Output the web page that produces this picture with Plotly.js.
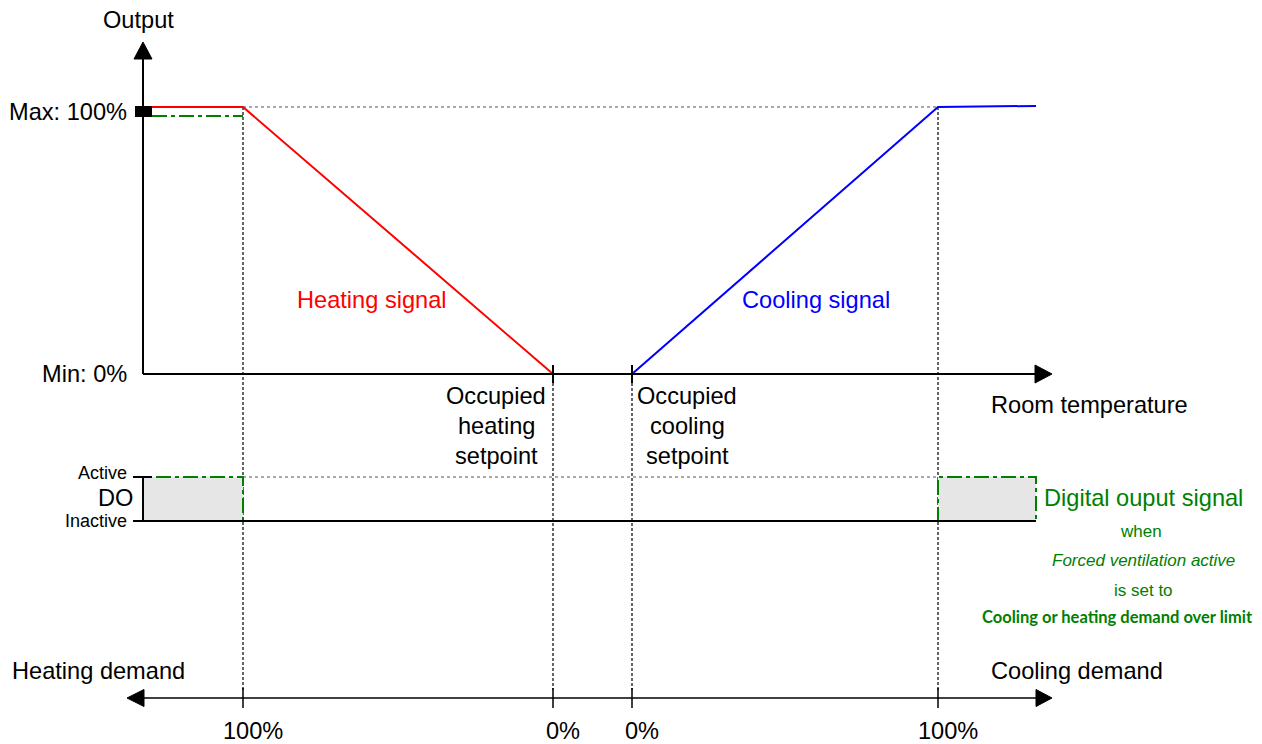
<!DOCTYPE html>
<html><head><meta charset="utf-8">
<script src="https://cdn.plot.ly/plotly-3.0.1.min.js"></script>
<style>html,body{margin:0;padding:0;background:#fff}#chart{width:1262px;height:744px}</style>
</head><body><div id="chart"></div>
<script>
// ---------- data ----------
const heatingX = [0, 1.00, 4.10];
const heatingY = [100, 100, 0];
const coolingX = [4.89, 7.95, 8.93];
const coolingY = [0, 100, 100.4];
const forcedVentX = [0.09, 1.00];
const forcedVentY = [96.6, 96.6];
const doHeatX = [0, 1.00];
const doCoolX = [7.95, 8.93];
const doActive = 1, doInactive = 0;
const outputTickVals = [100, 0];
const outputTickText = ['Max: 100%', 'Min: 0%'];
const setpointX = [4.10, 4.89];
const setpointLabels = [['Occupied', 'heating', 'setpoint'], ['Occupied', 'cooling', 'setpoint']];
const demandTickX = [1.00, 4.10, 4.89, 7.95];
const demandTickText = ['100%', '0%', '0%', '100%'];

// ---------- layout helpers ----------
const W = 1262, H = 744;
const FONT = 'Liberation Sans, Arial, sans-serif';
const BIG = 23.6, MID = 17, SMALL = 18;
const GREEN = '#008000';
const px = v => v / W;
const py = v => 1 - v / H;
const shapes = [];
const ann = [];
function pline(x0, y0, x1, y1, color, width, dash, layer) {
  shapes.push({type: 'line', xref: 'paper', yref: 'paper', x0: px(x0), x1: px(x1), y0: py(y0), y1: py(y1),
    line: {color: color, width: width, dash: dash || 'solid'}, layer: layer || 'above'});
}
function tri(pts) {
  shapes.push({type: 'path', xref: 'paper', yref: 'paper',
    path: 'M' + pts.map(p => px(p[0]) + ',' + py(p[1])).join(' L') + ' Z',
    fillcolor: '#000', line: {color: '#000', width: 1}});
}
function text(t, x, y, size, opts) {
  ann.push(Object.assign({text: t, xref: 'paper', yref: 'paper', x: px(x), y: py(y), showarrow: false,
    xanchor: 'center', yanchor: 'middle', font: {family: FONT, size: size, color: '#000'}}, opts || {}));
}

// axes of main plot
pline(143, 374, 143, 58, '#000', 2);
tri([[143, 42], [134, 59], [152, 59]]);
pline(143, 374, 1036, 374, '#000', 2);
tri([[1052, 374], [1035, 365], [1035, 383]]);
setpointX.forEach(x => shapes.push({type: 'line', xref: 'x', yref: 'paper', x0: x, x1: x, y0: py(365), y1: py(383), line: {color: '#000', width: 2}}));
// black marker at max
shapes.push({type: 'rect', xref: 'paper', yref: 'paper', x0: px(135), x1: px(152), y0: py(106), y1: py(117), fillcolor: '#000', line: {width: 0}});

// guide lines (dotted)
shapes.push({type: 'line', xref: 'x', yref: 'y', x0: heatingX[1], x1: coolingX[1], y0: 100, y1: 100, line: {color: '#555', width: 1, dash: '3px,3px'}, layer: 'below'});
shapes.push({type: 'line', xref: 'x', yref: 'y2', x0: doHeatX[1], x1: doCoolX[0], y0: doActive, y1: doActive, line: {color: '#555', width: 1, dash: '3px,3px'}, layer: 'below'});
[demandTickX[0], demandTickX[3]].forEach(x => shapes.push({type: 'line', xref: 'x', yref: 'paper', x0: x, x1: x, y0: py(107), y1: py(690), line: {color: '#000', width: 1.2, dash: '3px,2px'}, layer: 'below'}));
setpointX.forEach(x => shapes.push({type: 'line', xref: 'x', yref: 'paper', x0: x, x1: x, y0: py(383), y1: py(690), line: {color: '#000', width: 1.2, dash: '3px,2px'}, layer: 'below'}));

// DO axis
pline(143, 477, 143, 521, '#000', 2);
pline(133, 477, 152, 477, '#000', 2);
pline(133, 521, 1036, 521, '#000', 2);

// demand axis
pline(143, 698, 1037, 698, '#000', 1.5);
tri([[127, 698], [144, 689.5], [144, 706.5]]);
tri([[1052, 698], [1036, 689.5], [1036, 706.5]]);
demandTickX.forEach(x => shapes.push({type: 'line', xref: 'x', yref: 'paper', x0: x, x1: x, y0: py(688), y1: py(708), line: {color: '#000', width: 1.5}}));

// ---------- texts ----------
text('Output', 138, 20, BIG);
outputTickVals.forEach((v, i) => ann.push({text: outputTickText[i], xref: 'paper', yref: 'y', x: px(129), y: v, yshift: i === 0 ? -5 : 0,
  showarrow: false, xanchor: 'right', yanchor: 'middle', font: {family: FONT, size: BIG, color: '#000'}}));
text('Room temperature', 1089, 405, BIG);
text('Heating signal', 372, 300, BIG, {font: {family: FONT, size: BIG, color: '#ff0000'}});
text('Cooling signal', 816, 300, BIG, {font: {family: FONT, size: BIG, color: '#0000ff'}});
setpointLabels.forEach((lines, i) => lines.forEach((t, j) => ann.push({text: t, xref: 'x', yref: 'paper', x: setpointX[i], xshift: i === 0 ? -57 : 55,
  y: py(396 + 30 * j), showarrow: false, xanchor: 'center', yanchor: 'middle', font: {family: FONT, size: BIG, color: '#000'}})));
text('Active', 129, 473, SMALL, {xanchor: 'right'});
text('DO', 115, 498, BIG);
text('Inactive', 129, 521, SMALL, {xanchor: 'right'});
text('Digital ouput signal', 1143, 498, BIG, {font: {family: FONT, size: BIG, color: GREEN}});
text('when', 1141, 531, MID, {font: {family: FONT, size: MID, color: GREEN}});
text('<i>Forced ventilation active</i>', 1143, 560, MID, {font: {family: FONT, size: MID, color: GREEN}});
text('is set to', 1143, 590, MID, {font: {family: FONT, size: MID, color: GREEN}});
text('<b>Cooling or heating demand over limit</b>', 1117, 617, 16.5, {font: {family: 'Lato, Open Sans, sans-serif', size: 16.5, color: GREEN}});
text('Heating demand', 98, 671, BIG);
text('Cooling demand', 1077, 671, BIG);
demandTickX.forEach((x, i) => ann.push({text: demandTickText[i], xref: 'x', yref: 'paper', x: x, xshift: 10, y: py(731),
  showarrow: false, xanchor: 'center', yanchor: 'middle', font: {family: FONT, size: BIG, color: '#000'}}));

// ---------- traces ----------
const dashdot = '15px,4px,4px,4px';
const box = (xs) => ({x: [xs[0], xs[1], xs[1], xs[0], xs[0]], y: [doInactive, doInactive, doActive, doActive, doInactive]});
const traces = [
  Object.assign({type: 'scatter', mode: 'lines', yaxis: 'y2', fill: 'toself', fillcolor: '#e6e6e6',
    line: {color: GREEN, width: 2, dash: dashdot}}, box(doHeatX)),
  Object.assign({type: 'scatter', mode: 'lines', yaxis: 'y2', fill: 'toself', fillcolor: '#e6e6e6',
    line: {color: GREEN, width: 2, dash: dashdot}}, box(doCoolX)),
  {type: 'scatter', mode: 'lines', x: forcedVentX, y: forcedVentY, line: {color: GREEN, width: 2, dash: dashdot}},
  {type: 'scatter', mode: 'lines', x: heatingX, y: heatingY, line: {color: '#ff0000', width: 2}},
  {type: 'scatter', mode: 'lines', x: coolingX, y: coolingY, line: {color: '#0000ff', width: 2}}
];

const hidden = {showgrid: false, zeroline: false, showticklabels: false, showline: false, ticks: '', fixedrange: true};
const layout = {
  width: W, height: H, margin: {l: 0, r: 0, t: 0, b: 0, pad: 0},
  paper_bgcolor: '#fff', plot_bgcolor: '#fff', showlegend: false,
  xaxis: Object.assign({range: [-1.43, 11.19]}, hidden),
  yaxis: Object.assign({range: [-138.58, 140.07]}, hidden),
  yaxis2: Object.assign({range: [-5.068, 11.841], overlaying: 'y'}, hidden),
  shapes: shapes, annotations: ann
};
Plotly.newPlot('chart', traces, layout, {staticPlot: true, displayModeBar: false});
</script></body></html>
